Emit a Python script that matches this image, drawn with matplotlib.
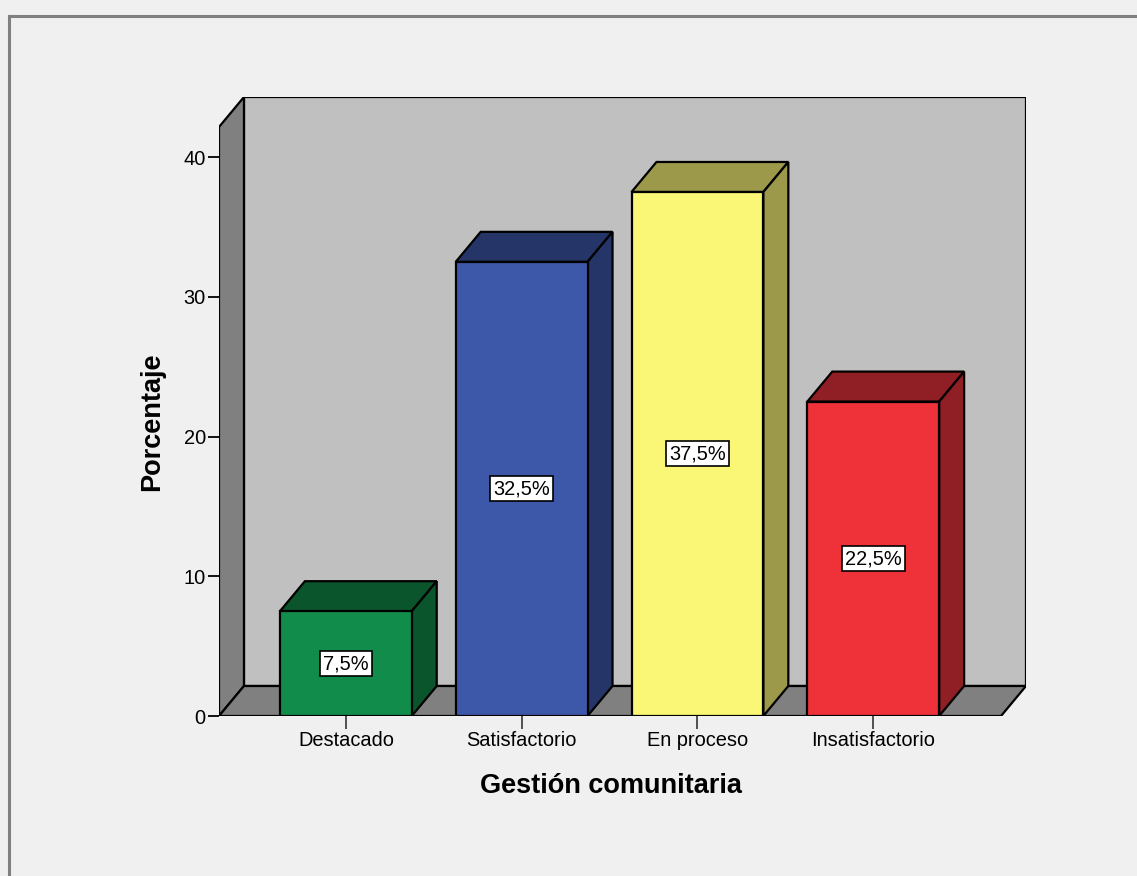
import matplotlib.pyplot as plt
from matplotlib.patches import Polygon, Rectangle
from matplotlib.lines import Line2D

plt.rcParams['font.family'] = ['Liberation Sans', 'DejaVu Sans']

categorias = ['Destacado', 'Satisfactorio', 'En proceso', 'Insatisfactorio']
porcentaje = [7.5, 32.5, 37.5, 22.5]
y_ticks = [0, 10, 20, 30, 40]

color_frente = ['#118c4a', '#3e58a9', '#fbf776', '#ef323a']
color_sombra = ['#0a552b', '#253568', '#9d994a', '#8f1f24']

# 3D look: depth offset in data units
dx = 0.142
dy = 2.147
ancho = 0.75
x0, x1 = -0.7216, 3.727
y_front_top = 42.15

fig = plt.figure(figsize=(11.37, 8.76), dpi=100, facecolor='#f0f0f0')
ax = fig.add_axes([219/1137, 1 - 716/876, (1026 - 219)/1137, (716 - 97)/876])
ax.set_facecolor('none')
ax.set_xlim(x0, x1 + dx)
ax.set_ylim(0, y_front_top + dy)
for s in ax.spines.values():
    s.set_visible(False)

lw = 1.6
# back wall, left wall and floor
ax.add_patch(Rectangle((x0 + dx, dy), x1 - x0, y_front_top, facecolor='#c0c0c0',
                       edgecolor='black', lw=lw, zorder=1))
ax.add_patch(Polygon([(x0, 0), (x0, y_front_top), (x0 + dx, y_front_top + dy), (x0 + dx, dy)],
                     facecolor='#808080', edgecolor='black', lw=lw, zorder=1))
ax.add_patch(Polygon([(x0, 0), (x1, 0), (x1 + dx, dy), (x0 + dx, dy)],
                     facecolor='#808080', edgecolor='black', lw=lw, zorder=1))

for i, v in enumerate(porcentaje):
    l, r = i - ancho / 2, i + ancho / 2
    ax.add_patch(Polygon([(l, v), (r, v), (r + dx, v + dy), (l + dx, v + dy)],
                         facecolor=color_sombra[i], edgecolor='black', lw=lw, zorder=2))
    ax.add_patch(Polygon([(r, 0), (r + dx, dy), (r + dx, v + dy), (r, v)],
                         facecolor=color_sombra[i], edgecolor='black', lw=lw, zorder=2))
    ax.add_patch(Rectangle((l, 0), ancho, v, facecolor=color_frente[i],
                           edgecolor='black', lw=lw, zorder=3))
    ax.text(i, v / 2, f'{v:.1f}%'.replace('.', ','), ha='center', va='center',
            fontsize=14.4, zorder=4,
            bbox=dict(boxstyle='square,pad=0.15', facecolor='white', edgecolor='black', lw=1.2))

ax.set_yticks(y_ticks)
ax.set_yticklabels([str(t) for t in y_ticks])
ax.set_xticks(range(len(categorias)))
ax.set_xticklabels(categorias)
ax.tick_params(axis='y', length=8, width=1.3, pad=1.5, labelsize=14.4, color='black')
ax.tick_params(axis='x', length=9, width=1.3, pad=2, labelsize=14.4, color='#444444')

fig.text(611/1137, 1 - 786/876, 'Gestión comunitaria', ha='center', va='center',
         fontsize=19.5, fontweight='bold')
fig.text(152/1137, 1 - 422/876, 'Porcentaje', ha='center', va='center', rotation=90,
         fontsize=19.5, fontweight='bold')

# outer frame (top and left edges visible)
fig.add_artist(Line2D([9/1137, 9/1137], [0, 1 - 16/876], color='#808080', lw=2.2))
fig.add_artist(Line2D([9/1137, 1], [1 - 16/876, 1 - 16/876], color='#808080', lw=2.2))

fig.savefig('out.png', dpi=100, facecolor=fig.get_facecolor())
